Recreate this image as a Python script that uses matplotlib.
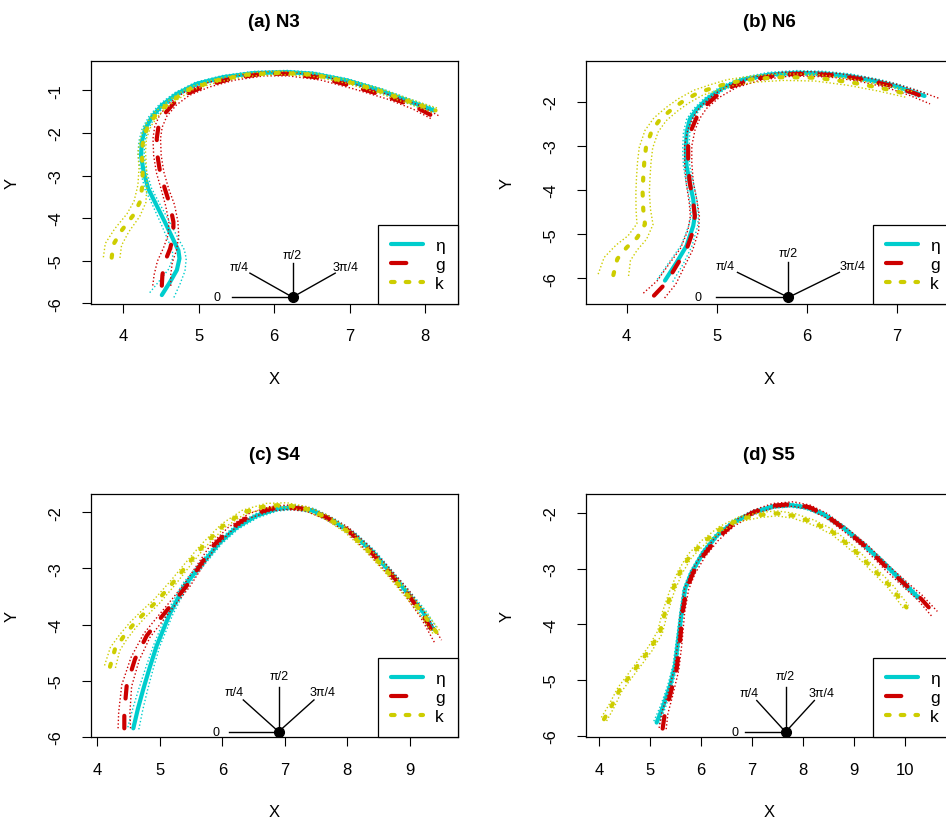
import numpy as np
import matplotlib
matplotlib.use("Agg")
import matplotlib.pyplot as plt
from matplotlib.lines import Line2D

plt.rcParams['font.family'] = ['Liberation Sans', 'DejaVu Sans']
plt.rcParams['lines.scale_dashes'] = False

# ---------------- data ----------------
titles = ["(a) N3", "(b) N6", "(c) S4", "(d) S5"]
series_names = ["η", "g", "k"]
series_colors = ["#00CDCD", "#CD0000", "#CDCD00"]
angle_values = [0.0, np.pi / 4, np.pi / 2, 3 * np.pi / 4]
angle_labels = ["0", "π/4", "π/2", "3π/4"]

# (a) N3
a_eta_x = [4.51, 4.62, 4.71, 4.744, 4.73, 4.655, 4.55, 4.44, 4.33, 4.27, 4.235, 4.244, 4.29, 4.377, 4.51,
           4.71, 4.975, 5.33, 5.727, 6.17, 6.52, 6.966, 7.41, 7.76, 8.117]
a_eta_y = [-5.81, -5.50, -5.22, -4.95, -4.76, -4.48, -4.09, -3.70, -3.31, -2.92, -2.53, -2.21, -1.90, -1.625, -1.35,
           -1.08, -0.843, -0.686, -0.592, -0.569, -0.608, -0.765, -1.0, -1.234, -1.47]
a_eta_w = [0.17, 0.14, 0.11, 0.09, 0.08, 0.07, 0.06, 0.05, 0.045, 0.04, 0.04, 0.04, 0.04, 0.04, 0.04,
           0.04, 0.04, 0.04, 0.04, 0.04, 0.04, 0.04, 0.045, 0.05, 0.05]
a_g_x = [4.51, 4.518, 4.55, 4.62, 4.664, 4.664, 4.62, 4.55, 4.487, 4.452, 4.443, 4.465, 4.53, 4.664, 4.84,
         5.107, 5.46, 5.86, 6.195, 6.638, 7.08, 7.52, 7.878, 8.143]
a_g_y = [-5.59, -5.34, -5.03, -4.72, -4.40, -4.09, -3.70, -3.31, -2.92, -2.53, -2.13, -1.86, -1.586, -1.31, -1.08,
         -0.88, -0.71, -0.608, -0.608, -0.71, -0.92, -1.156, -1.39, -1.64]
a_g_w = [0.12, 0.11, 0.10, 0.09, 0.07, 0.06, 0.06, 0.05, 0.05, 0.05, 0.05, 0.05, 0.05, 0.05, 0.05,
         0.05, 0.05, 0.05, 0.05, 0.05, 0.05, 0.05, 0.06, 0.06]
a_k_x = [3.845, 3.868, 3.978, 4.133, 4.22, 4.253, 4.257, 4.244, 4.266, 4.33, 4.443, 4.62, 4.886, 5.24, 5.64,
         6.06, 6.52, 6.966, 7.41, 7.81, 8.14]
a_k_y = [-4.93, -4.62, -4.29, -3.93, -3.62, -3.23, -2.84, -2.45, -2.13, -1.82, -1.547, -1.27, -0.96, -0.765, -0.63,
         -0.585, -0.63, -0.79, -1.02, -1.27, -1.47]
a_k_w = [0.11, 0.11, 0.10, 0.09, 0.08, 0.06, 0.05, 0.05, 0.04, 0.04, 0.04, 0.04, 0.04, 0.04, 0.04,
         0.04, 0.04, 0.04, 0.05, 0.05, 0.06]

# (b) N6
b_eta_x = [4.425, 4.554, 4.665, 4.739, 4.757, 4.739, 4.70, 4.665, 4.657, 4.665, 4.70, 4.776, 4.887, 5.07, 5.293,
           5.59, 5.884, 6.18, 6.475, 6.77, 6.993, 7.307]
b_eta_y = [-6.05, -5.64, -5.26, -4.81, -4.585, -4.21, -3.83, -3.455, -3.08, -2.70, -2.40, -2.174, -1.948, -1.684, -1.496,
           -1.383, -1.345, -1.36, -1.42, -1.534, -1.647, -1.87]
b_eta_w = [0.09, 0.08, 0.06, 0.05, 0.04, 0.04, 0.04, 0.035, 0.035, 0.035, 0.035, 0.035, 0.035, 0.04, 0.045,
           0.05, 0.05, 0.05, 0.05, 0.05, 0.05, 0.06]
b_g_x = [4.303, 4.443, 4.554, 4.665, 4.739, 4.757, 4.739, 4.70, 4.683, 4.683, 4.72, 4.776, 4.85, 4.997, 5.18,
         5.44, 5.737, 6.03, 6.33, 6.623, 6.92, 7.178, 7.418]
b_g_y = [-6.39, -6.09, -5.71, -5.34, -4.92, -4.585, -4.28, -3.83, -3.38, -3.0, -2.626, -2.36, -2.136, -1.87, -1.647,
         -1.48, -1.383, -1.368, -1.406, -1.496, -1.63, -1.797, -1.986]
b_g_w = [0.13, 0.11, 0.09, 0.07, 0.06, 0.05, 0.045, 0.04, 0.04, 0.04, 0.04, 0.04, 0.04, 0.045, 0.05,
         0.05, 0.05, 0.05, 0.05, 0.055, 0.06, 0.07, 0.08]
b_k_x = [3.852, 3.896, 4.0, 4.118, 4.203, 4.184, 4.177, 4.184, 4.195, 4.214, 4.277, 4.37, 4.499, 4.628, 4.794,
         4.96, 5.145, 5.44, 5.737, 6.106, 6.475, 6.81, 7.14]
b_k_y = [-5.925, -5.56, -5.30, -5.074, -4.773, -4.434, -4.057, -3.718, -3.38, -3.04, -2.664, -2.40, -2.174, -1.986, -1.797,
         -1.684, -1.57, -1.48, -1.443, -1.458, -1.556, -1.684, -1.835]
b_k_w = [0.17, 0.15, 0.13, 0.11, 0.09, 0.08, 0.075, 0.075, 0.075, 0.075, 0.075, 0.075, 0.075, 0.075, 0.075,
         0.075, 0.075, 0.075, 0.075, 0.075, 0.075, 0.075, 0.075]

# (c) S4
c_eta_x = [4.576, 4.65, 4.736, 4.84, 4.95, 5.163, 5.40, 5.696, 5.963, 6.23, 6.55, 6.87, 7.137, 7.456, 7.776,
           8.096, 8.416, 8.736, 9.003, 9.216, 9.376]
c_eta_y = [-5.85, -5.50, -5.15, -4.76, -4.378, -3.80, -3.30, -2.892, -2.535, -2.268, -2.06, -1.94, -1.911, -1.97, -2.149,
           -2.387, -2.714, -3.13, -3.486, -3.783, -4.08]
c_eta_w = [0.09, 0.08, 0.07, 0.06, 0.05, 0.05, 0.045, 0.04, 0.04, 0.04, 0.04, 0.04, 0.04, 0.04, 0.04,
           0.04, 0.04, 0.04, 0.045, 0.05, 0.06]
c_g_x = [4.432, 4.432, 4.47, 4.603, 4.79, 5.003, 5.216, 5.43, 5.643, 5.856, 6.123, 6.443, 6.763, 7.03, 7.35,
         7.67, 7.99, 8.31, 8.63, 8.95, 9.216, 9.456]
c_g_y = [-5.85, -5.565, -5.09, -4.615, -4.20, -3.90, -3.605, -3.31, -2.95, -2.595, -2.298, -2.06, -1.94, -1.911, -1.94,
         -2.09, -2.298, -2.624, -3.01, -3.426, -3.842, -4.306]
c_g_w = [0.10, 0.09, 0.08, 0.07, 0.06, 0.055, 0.05, 0.05, 0.045, 0.045, 0.04, 0.04, 0.04, 0.04, 0.04,
         0.04, 0.04, 0.045, 0.045, 0.05, 0.05, 0.06]
c_k_x = [4.203, 4.283, 4.416, 4.576, 4.76, 4.95, 5.216, 5.43, 5.696, 6.016, 6.336, 6.71, 7.03, 7.35, 7.67,
         7.99, 8.31, 8.63, 8.95, 9.216, 9.43]
c_k_y = [-4.752, -4.437, -4.22, -4.0, -3.79, -3.59, -3.248, -2.951, -2.595, -2.238, -2.0, -1.881, -1.87, -1.94, -2.09,
         -2.327, -2.654, -3.04, -3.456, -3.813, -4.14]
c_k_w = [0.09, 0.08, 0.07, 0.065, 0.06, 0.055, 0.05, 0.045, 0.04, 0.04, 0.04, 0.04, 0.04, 0.04, 0.04,
         0.04, 0.04, 0.04, 0.045, 0.05, 0.06]

# (d) S5
d_eta_x = [5.126, 5.257, 5.388, 5.486, 5.551, 5.617, 5.682, 5.813, 6.042, 6.304, 6.631, 7.023, 7.416, 7.743, 8.07,
           8.397, 8.79, 9.182, 9.575, 9.902, 10.262]
d_eta_y = [-5.765, -5.465, -5.105, -4.746, -4.266, -3.787, -3.367, -3.067, -2.707, -2.408, -2.168, -1.988, -1.88, -1.856, -1.898,
           -2.018, -2.258, -2.558, -2.887, -3.187, -3.517]
d_eta_w = [0.06, 0.05, 0.045, 0.04, 0.035, 0.035, 0.035, 0.035, 0.035, 0.035, 0.035, 0.035, 0.035, 0.035, 0.035,
           0.035, 0.035, 0.035, 0.035, 0.04, 0.04]
d_g_x = [5.244, 5.29, 5.388, 5.519, 5.584, 5.636, 5.715, 5.846, 6.042, 6.304, 6.631, 7.023, 7.416, 7.808, 8.135,
         8.463, 8.855, 9.248, 9.64, 10.033, 10.295, 10.589]
d_g_y = [-5.873, -5.585, -5.285, -4.806, -4.326, -3.787, -3.367, -3.067, -2.767, -2.468, -2.198, -1.988, -1.868, -1.838, -1.898,
         -2.048, -2.318, -2.617, -2.977, -3.307, -3.517, -3.817]
d_g_w = [0.07, 0.06, 0.05, 0.045, 0.04, 0.04, 0.04, 0.04, 0.04, 0.04, 0.04, 0.04, 0.04, 0.04, 0.04,
         0.04, 0.04, 0.045, 0.05, 0.055, 0.06, 0.07]
d_k_x = [4.092, 4.243, 4.406, 4.603, 4.799, 4.995, 5.191, 5.29, 5.42, 5.584, 5.78, 6.042, 6.369, 6.762, 7.154,
         7.481, 7.808, 8.201, 8.593, 8.986, 9.378, 9.706, 10.033]
d_k_y = [-5.705, -5.465, -5.165, -4.926, -4.686, -4.446, -4.146, -3.787, -3.427, -3.067, -2.767, -2.528, -2.288, -2.108, -2.036,
         -2.006, -2.048, -2.168, -2.348, -2.647, -3.007, -3.307, -3.697]
d_k_w = [0.06, 0.055, 0.05, 0.05, 0.05, 0.05, 0.05, 0.05, 0.045, 0.045, 0.045, 0.045, 0.045, 0.045, 0.045,
         0.045, 0.045, 0.045, 0.045, 0.045, 0.05, 0.05, 0.055]

# compass centres (data coords) per panel
compass_x = [6.244, 5.796, 6.902, 7.658]
compass_y = [-5.86, -6.43, -5.91, -5.935]

# axis limits and ticks per panel
xlims = [(3.567, 8.434), (3.545, 7.62), (3.894, 9.768), (3.733, 10.94)]
ylims = [(-6.02, -0.296), (-6.58, -1.067), (-6.01, -1.674), (-6.03, -1.658)]
xticks = [[4, 5, 6, 7, 8], [4, 5, 6, 7], [4, 5, 6, 7, 8, 9], [4, 5, 6, 7, 8, 9, 10]]
yticks = [[-6, -5, -4, -3, -2, -1], [-6, -5, -4, -3, -2], [-6, -5, -4, -3, -2], [-6, -5, -4, -3, -2]]

panels = [
    [(a_eta_x, a_eta_y, a_eta_w), (a_g_x, a_g_y, a_g_w), (a_k_x, a_k_y, a_k_w)],
    [(b_eta_x, b_eta_y, b_eta_w), (b_g_x, b_g_y, b_g_w), (b_k_x, b_k_y, b_k_w)],
    [(c_eta_x, c_eta_y, c_eta_w), (c_g_x, c_g_y, c_g_w), (c_k_x, c_k_y, c_k_w)],
    [(d_eta_x, d_eta_y, d_eta_w), (d_g_x, d_g_y, d_g_w), (d_k_x, d_k_y, d_k_w)],
]

# ---------------- styles ----------------
main_styles = [
    dict(linestyle='-'),
    dict(linestyle=(0, (9.0, 12.5))),
    dict(linestyle=(0, (2.2, 8.6))),
]
legend_styles = [
    dict(linestyle='-'),
    dict(linestyle=(0, (11.0, 30.0))),
    dict(linestyle=(0, (2.6, 8.0))),
]
band_style = dict(linestyle=(0, (1.0, 1.6)), lw=1.0, dash_capstyle='butt')
LW = 3.0

W, H = 946, 820
fig = plt.figure(figsize=(W / 100, H / 100), dpi=100)
positions = [
    [90.7 / W, (H - 305) / H, 367 / W, 243.5 / H],
    [585.7 / W, (H - 305) / H, 367 / W, 243.5 / H],
    [90.7 / W, (H - 738.3) / H, 367 / W, 243.3 / H],
    [585.7 / W, (H - 738.3) / H, 367 / W, 243.3 / H],
]


def band_lines(x, y, w):
    x = np.asarray(x, float)
    y = np.asarray(y, float)
    w = np.asarray(w, float)
    tx = np.gradient(x)
    ty = np.gradient(y)
    n = np.hypot(tx, ty)
    nx, ny = -ty / n, tx / n
    return (x + w * nx, y + w * ny), (x - w * nx, y - w * ny)


for i in range(4):
    ax = fig.add_axes(positions[i])
    for j, (x, y, w) in enumerate(panels[i]):
        col = series_colors[j]
        up, lo = band_lines(x, y, w)
        ax.plot(up[0], up[1], color=col, **band_style)
        ax.plot(lo[0], lo[1], color=col, **band_style)
        ax.plot(x, y, color=col, lw=LW, solid_capstyle='round', dash_capstyle='round',
                **main_styles[j])
    # compass
    cx, cy = compass_x[i], compass_y[i]
    for ang, lab in zip(angle_values, angle_labels):
        ax.plot([cx, cx - 0.8 * np.cos(ang)], [cy, cy + 0.8 * np.sin(ang)], color='black', lw=1.0)
        ax.text(cx - 1.0 * np.cos(ang), cy + 1.0 * np.sin(ang), lab, ha='center', va='center',
                fontsize=9)
    ax.plot([cx], [cy], 'o', color='black', ms=7)

    ax.set_xlim(*xlims[i])
    ax.set_ylim(*ylims[i])
    ax.set_xticks(xticks[i])
    ax.set_yticks(yticks[i])
    ax.set_xticklabels([str(v) for v in xticks[i]])
    ax.set_yticklabels([str(v) for v in yticks[i]])
    ax.tick_params(axis='both', direction='out', length=6.5, width=0.8, labelsize=12)
    ax.tick_params(axis='x', pad=11)
    ax.tick_params(axis='y', pad=13, labelrotation=90)
    for lbl in ax.get_yticklabels():
        lbl.set_va('center')
    for s in ax.spines.values():
        s.set_linewidth(0.9)
    ax.set_title(titles[i], fontweight='bold', fontsize=13.5, pad=25)
    ax.set_xlabel("X", fontsize=12, labelpad=20)
    ax.set_ylabel("Y", fontsize=12, labelpad=21)

    handles = [Line2D([], [], color=series_colors[j], lw=LW, solid_capstyle='round',
                      dash_capstyle='round', **legend_styles[j]) for j in range(3)]
    leg = ax.legend(handles, series_names, loc='lower right', borderaxespad=0, fancybox=False,
                    framealpha=1, edgecolor='black', fontsize=12.5, handlelength=1.85,
                    handletextpad=0.7, borderpad=0.75, labelspacing=0.22)
    leg.get_frame().set_linewidth(0.9)

fig.savefig("out.png", dpi=100)
